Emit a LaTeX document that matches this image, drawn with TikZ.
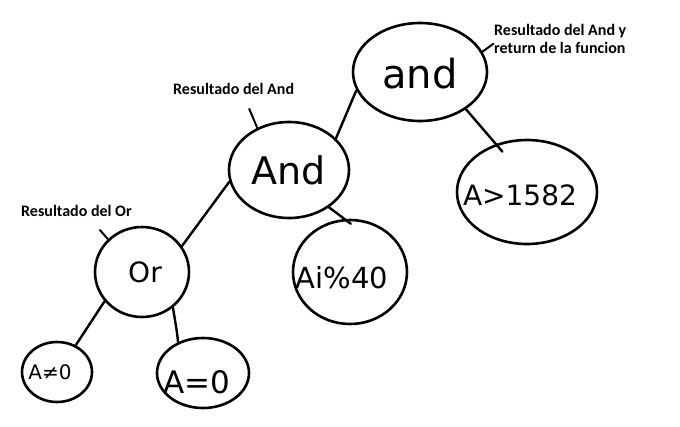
\documentclass[tikz,border=0pt]{standalone}
\usepackage{fontspec}
\setmainfont{Carlito}
\newfontfamily\hand{DejaVu Sans}
\usetikzlibrary{shapes.geometric}
\begin{document}
\begin{tikzpicture}[x=1pt,y=-1pt,
  blob/.style={draw, ellipse, line width=2.6pt, inner sep=0pt},
  hw/.style={font=\hand\fontsize{#1}{#1}\selectfont},
  edge/.style={line width=2.4pt, line cap=round},
  lab/.style={font=\bfseries\fontsize{16}{18}\selectfont, align=left, anchor=west, inner sep=0pt}]
\useasboundingbox[fill=white] (0,0) rectangle (680,426);
% nodes
\node[blob, minimum width=134pt, minimum height=98pt,
  label={[hw=40,yshift=-2pt]center:and}] (root) at (420,72) {};
\node[blob, minimum width=140pt, minimum height=104pt,
  label={[hw=28,xshift=-7pt,yshift=-3pt]center:A>1582}] (gt) at (527,192) {};
\node[blob, minimum width=120pt, minimum height=96pt,
  label={[hw=38]center:And}] (mid) at (289,170) {};
\node[blob, minimum width=114pt, minimum height=104pt,
  label={[hw=29,xshift=-8pt,yshift=-6pt]center:Ai\%40}] (ai) at (350,272) {};
\node[blob, minimum width=94pt, minimum height=90pt,
  label={[hw=28,xshift=3pt]center:Or}] (or) at (142,272) {};
\node[blob, minimum width=70pt, minimum height=60pt,
  label={[hw=20,xshift=-7pt]center:A≠0}] (ne) at (57,372) {};
\node[blob, minimum width=92pt, minimum height=70pt,
  label={[hw=31,xshift=-6pt,yshift=-9pt]center:A=0}] (eq) at (203,373) {};
% labels
\node[lab] (l1) at (494,39) {Resultado del And y\\return de la funcion};
\node[lab] (l2) at (173,89) {Resultado del And};
\node[lab] (l3) at (21,211) {Resultado del Or};
% connectors
\draw[edge] (root.196) -- (mid.34);
\draw[edge, shorten >=-10pt] (root.321) -- (gt.123);
\draw[edge, shorten >=-8pt] (mid.317) -- (ai.96);
\draw[edge] (mid.191) -- (or.33);
\draw[edge] (or.218) -- (ne.55);
\draw[edge] (or.311) .. controls (177,332) .. (eq.129);
% ticks
\draw[edge, line width=2pt] (root.18) -- ++(11,-8);
\draw[edge, line width=2pt] (mid.127) -- ++(-8,-19);
\draw[edge, line width=2pt] (or.136) -- ++(-8,-9);
\end{tikzpicture}
\end{document}
